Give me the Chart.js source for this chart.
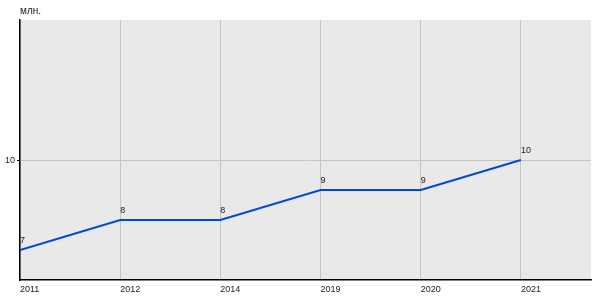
<!DOCTYPE html>
<html>
<head>
<meta charset="utf-8">
<script src="https://cdn.jsdelivr.net/npm/chart.js@4/dist/chart.umd.min.js"></script>
<style>
  html, body { margin: 0; padding: 0; background: #fff; }
  #wrap { width: 600px; height: 300px; }
</style>
</head>
<body>
<div id="wrap"><canvas id="chart"></canvas></div>
<script>
var years = ['2011', '2012', '2014', '2019', '2020', '2021'];
var values = [7, 8, 8, 9, 9, 10];
var yTicks = [10];
var unitLabel = 'млн.';

var font = { family: 'Arial, "Liberation Sans", sans-serif', size: 9 };

var points = values.map(function(v, i) { return { x: i, y: v }; });

// background of the plot area, unit caption and point labels
var extras = {
    id: 'extras',
    beforeDraw: function(chart) {
        var a = chart.chartArea, ctx = chart.ctx;
        ctx.save();
        ctx.fillStyle = '#e9e9e9';
        ctx.fillRect(a.left, a.top, a.right - a.left, a.bottom - a.top);
        ctx.restore();
    },
    afterDatasetsDraw: function(chart) {
        var ctx = chart.ctx;
        var meta = chart.getDatasetMeta(0);
        ctx.save();
        ctx.font = '9px Arial, "Liberation Sans", sans-serif';
        ctx.fillStyle = '#222';
        ctx.textAlign = 'left';
        ctx.textBaseline = 'alphabetic';
        meta.data.forEach(function(p, i) {
            ctx.fillText(String(values[i]), p.x, p.y - 7);
        });
        ctx.font = '10px Arial, "Liberation Sans", sans-serif';
        ctx.fillText(unitLabel, chart.chartArea.left, 14);
        ctx.restore();
    }
};

new Chart(document.getElementById('chart'), {
    type: 'line',
    data: {
        datasets: [{
            data: points,
            borderColor: '#0047e0',
            borderWidth: 2,
            pointRadius: 0,
            tension: 0,
            fill: false
        }]
    },
    options: {
        responsive: true,
        maintainAspectRatio: false,
        animation: false,
        layout: { padding: { top: 20, right: 9, left: 0, bottom: 0 } },
        plugins: { legend: { display: false }, tooltip: { enabled: false } },
        scales: {
            x: {
                type: 'linear',
                min: 0,
                max: 5.7,
                afterBuildTicks: function(scale) {
                    scale.ticks = years.map(function(y, i) { return { value: i }; });
                },
                afterFit: function(scale) { scale.height = 20; },
                grid: { color: '#c4c4c4', drawTicks: false },
                border: { color: '#000', width: 1.5 },
                ticks: {
                    font: font,
                    color: '#222',
                    align: 'start',
                    maxRotation: 0,
                    padding: 4,
                    callback: function(v) { return years[v]; }
                }
            },
            y: {
                min: 6,
                max: 14.67,
                afterBuildTicks: function(scale) {
                    scale.ticks = yTicks.map(function(v) { return { value: v }; });
                },
                afterFit: function(scale) { scale.width = 20; },
                grid: { color: '#c4c4c4', tickLength: 3, tickColor: '#000' },
                border: { color: '#000', width: 1.5 },
                ticks: { font: font, color: '#222', padding: 2 }
            }
        }
    },
    plugins: [extras]
});
</script>
</body>
</html>
